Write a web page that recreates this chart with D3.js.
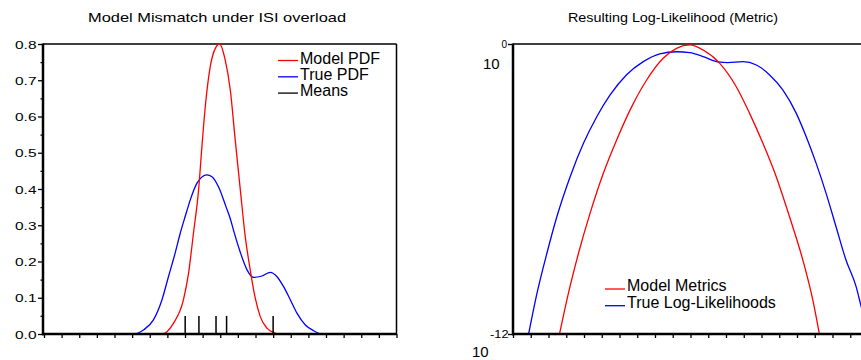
<!DOCTYPE html>
<html>
<head>
<meta charset="utf-8">
<script src="https://cdn.jsdelivr.net/npm/d3@7"></script>
<style>
  html, body { margin: 0; padding: 0; background: #fff; }
  svg { display: block; }
  text { font-family: "Liberation Sans", Arial, sans-serif; fill: #000; }
</style>
</head>
<body>
<svg id="chart" width="861" height="360"></svg>
<script>
// ---------- Left panel data ----------
const leftTitle = "Model Mismatch under ISI overload";
const leftYTicks = [0, 0.1, 0.2, 0.3, 0.4, 0.5, 0.6, 0.7, 0.8];
const leftYTickLabels = ["0.0", "0.1", "0.2", "0.3", "0.4", "0.5", "0.6", "0.7", "0.8"];
const leftXTicks = d3.range(0, 21);

const modelX   = [0, 6.69, 7.35, 7.91, 8.20, 8.48, 8.77, 8.96, 9.15, 9.43, 9.72, 9.96, 10.28, 10.57, 10.85, 11.14, 11.42, 11.70, 11.99, 12.27, 12.65, 13.03, 13.3, 20];
const modelPdf = [0, 0, 0.03, 0.094, 0.167, 0.278, 0.397, 0.517, 0.627, 0.737, 0.788, 0.8, 0.756, 0.673, 0.535, 0.397, 0.268, 0.177, 0.098, 0.048, 0.016, 0.004, 0, 0];

const trueX   = [0, 5.07, 5.64, 6.21, 6.69, 7.06, 7.44, 7.73, 8.01, 8.30, 8.68, 9.24, 9.53, 9.90, 10.32, 10.57, 10.76, 11.14, 11.52, 11.89, 12.37, 12.84, 13.22, 13.60, 13.98, 14.36, 14.83, 15.30, 15.78, 20];
const truePdf = [0, 0, 0.011, 0.039, 0.094, 0.158, 0.223, 0.278, 0.324, 0.370, 0.416, 0.439, 0.434, 0.406, 0.352, 0.318, 0.285, 0.225, 0.177, 0.156, 0.160, 0.170, 0.158, 0.130, 0.094, 0.057, 0.025, 0.009, 0, 0];

const meansX = [8.01, 8.79, 9.76, 10.36, 13.0];
const meanHeight = 0.05;

const leftLegend = ["Model PDF", "True PDF", "Means"];
const leftLegendColors = ["#ff0000", "#0000ff", "#000000"];

// ---------- Right panel data ----------
const rightTitle = "Resulting Log-Likelihood (Metric)";
const rightXTicks = d3.range(0, 21);
const rightYExtent = [-12, 0]; // decades

const modelLLX = [2.62, 3.12, 3.69, 4.34, 5.09, 5.84, 6.69, 7.53, 8.46, 9.21, 9.96, 10.71, 11.65, 12.58, 13.33, 14.08, 14.83, 15.58, 16.33, 16.89, 17.26];
const modelLL  = [-12, -10.32, -8.66, -7.01, -5.35, -3.97, -2.59, -1.49, -0.59, -0.18, -0.04, -0.25, -0.80, -1.77, -2.87, -4.11, -5.49, -7.15, -8.94, -10.59, -12];

const trueLLX = [0.88, 1.35, 1.91, 2.47, 3.22, 3.97, 4.72, 5.47, 6.40, 7.34, 8.27, 9.21, 9.96, 10.71, 11.55, 12.11, 12.96, 13.71, 14.46, 15.20, 15.96, 16.52, 17.08, 17.64, 18.20, 18.76, 19.33, 19.57, 20.0];
const trueLL  = [-12, -10.32, -8.66, -7.15, -5.49, -4.11, -3.01, -2.11, -1.27, -0.73, -0.41, -0.32, -0.36, -0.52, -0.74, -0.77, -0.73, -0.87, -1.28, -1.90, -2.87, -3.84, -4.94, -6.18, -7.56, -8.94, -10.04, -10.73, -12];

const rightLegend = ["Model Metrics", "True Log-Likelihoods"];
const rightLegendColors = ["#ff0000", "#0000ff"];

// ---------- Drawing ----------
const svg = d3.select("#chart");
const defs = svg.append("defs");

function panelFrame(g, x0, x1, y0, y1) {
  g.append("line").attr("x1", x0).attr("x2", x1).attr("y1", y0).attr("y2", y0)
    .attr("stroke", "#000").attr("stroke-width", 1.5);
  g.append("line").attr("x1", x1).attr("x2", x1).attr("y1", y0).attr("y2", y1)
    .attr("stroke", "#000").attr("stroke-width", 1.5);
}

// ===== Left panel =====
const Lx = d3.scaleLinear().domain([0, 20]).range([44, 396.5]);
const Ly = d3.scaleLinear().domain([0, 0.8]).range([334, 44]);
const gL = svg.append("g");

defs.append("clipPath").attr("id", "clipL").append("rect")
  .attr("x", 44).attr("y", 43).attr("width", 353).attr("height", 292);

gL.append("text").attr("x", 88).attr("y", 22).attr("font-size", 13)
  .attr("textLength", 258).attr("lengthAdjust", "spacingAndGlyphs").text(leftTitle);

panelFrame(gL, 43, 396.5, 44, 334);

const lineL = d3.line().x(d => Lx(d[0])).y(d => Ly(d[1])).curve(d3.curveMonotoneX);
const cL = gL.append("g").attr("clip-path", "url(#clipL)");
cL.append("path").datum(d3.zip(trueX, truePdf)).attr("d", lineL)
  .attr("fill", "none").attr("stroke", "#0000ff").attr("stroke-width", 1.3);
cL.append("path").datum(d3.zip(modelX, modelPdf)).attr("d", lineL)
  .attr("fill", "none").attr("stroke", "#ff0000").attr("stroke-width", 1.3);
cL.selectAll("line.mean").data(meansX).join("line").attr("class", "mean")
  .attr("x1", d => Lx(d)).attr("x2", d => Lx(d))
  .attr("y1", Ly(0)).attr("y2", Ly(meanHeight))
  .attr("stroke", "#000").attr("stroke-width", 1.5);

const yAxL = gL.append("g").attr("transform", "translate(43,0)")
  .call(d3.axisLeft(Ly).tickValues(leftYTicks).tickSize(5).tickPadding(6)
    .tickFormat((d, i) => leftYTickLabels[i]));
yAxL.select(".domain").remove();
yAxL.selectAll(".tick line").attr("stroke-width", 1.3);
yAxL.selectAll(".tick text").attr("font-size", 11).attr("font-family", "Liberation Sans, Arial, sans-serif")
  .attr("text-anchor", "start").attr("x", -28).attr("dy", "0.38em")
  .attr("textLength", 21.5).attr("lengthAdjust", "spacingAndGlyphs");
const yMinL = gL.append("g").attr("transform", "translate(43,0)")
  .call(d3.axisLeft(Ly).tickValues(d3.range(0.05, 0.8, 0.1)).tickSize(2.5).tickFormat(""));
yMinL.select(".domain").remove();
yMinL.selectAll(".tick line").attr("stroke-width", 1.3);
const xAxL = gL.append("g").attr("transform", "translate(0,334)")
  .call(d3.axisBottom(Lx).tickValues(leftXTicks).tickSize(4).tickFormat(""));
xAxL.select(".domain").remove();
xAxL.selectAll(".tick line").attr("stroke-width", 1.3);
gL.append("line").attr("x1", 43).attr("x2", 43).attr("y1", 43.5).attr("y2", 335.2)
  .attr("stroke", "#000").attr("stroke-width", 2.5);
gL.append("line").attr("x1", 42).attr("x2", 397).attr("y1", 334).attr("y2", 334)
  .attr("stroke", "#000").attr("stroke-width", 2.5);

const legL = gL.append("g");
leftLegend.forEach((name, i) => {
  const by = 63.5 + i * 16.3;
  legL.append("line").attr("x1", 278).attr("x2", 298).attr("y1", by - 3).attr("y2", by - 3)
    .attr("stroke", leftLegendColors[i]).attr("stroke-width", 1.3);
  legL.append("text").attr("x", 300).attr("y", by).attr("font-size", 16).text(name);
});

// ===== Right panel =====
const Rx = d3.scaleLinear().domain([0, 20]).range([513, 868]);
const Ry = d3.scaleLog().domain([1e-12, 1]).range([334, 44]);
const gR = svg.append("g");

defs.append("clipPath").attr("id", "clipR").append("rect")
  .attr("x", 513).attr("y", 43).attr("width", 356).attr("height", 292);

gR.append("text").attr("x", 568).attr("y", 22).attr("font-size", 13)
  .attr("textLength", 210).attr("lengthAdjust", "spacingAndGlyphs").text(rightTitle);

panelFrame(gR, 513, 868, 44, 334);

const lineR = d3.line().x(d => Rx(d[0])).y(d => Ry(Math.pow(10, d[1]))).curve(d3.curveMonotoneX);
const cR = gR.append("g").attr("clip-path", "url(#clipR)");
cR.append("path").datum(d3.zip(trueLLX, trueLL)).attr("d", lineR)
  .attr("fill", "none").attr("stroke", "#0000ff").attr("stroke-width", 1.3);
cR.append("path").datum(d3.zip(modelLLX, modelLL)).attr("d", lineR)
  .attr("fill", "none").attr("stroke", "#ff0000").attr("stroke-width", 1.3);

const yAxR = gR.append("g").attr("transform", "translate(513,0)")
  .call(d3.axisLeft(Ry).tickValues(rightYExtent.map(e => Math.pow(10, e))).tickSize(5).tickFormat(""));
yAxR.select(".domain").remove();
yAxR.selectAll(".tick line").attr("stroke-width", 1.3);
gR.append("text").attr("x", 507).attr("y", Ry(Math.pow(10, rightYExtent[1])) + 3.5)
  .attr("font-size", 10).attr("text-anchor", "end").text(String(rightYExtent[1]));
gR.append("text").attr("x", 483).attr("y", 69).attr("font-size", 15).text("10");
gR.append("text").attr("x", 490).attr("y", Ry(Math.pow(10, rightYExtent[0])) + 3.8)
  .attr("font-size", 10).attr("textLength", 18.5).attr("lengthAdjust", "spacingAndGlyphs")
  .text(String(rightYExtent[0]));
gR.append("text").attr("x", 472).attr("y", 357).attr("font-size", 15).text("10");

const xAxR = gR.append("g").attr("transform", "translate(0,334)")
  .call(d3.axisBottom(Rx).tickValues(rightXTicks).tickSize(4).tickFormat(""));
xAxR.select(".domain").remove();
xAxR.selectAll(".tick line").attr("stroke-width", 1.3);
gR.append("line").attr("x1", 513).attr("x2", 513).attr("y1", 43.5).attr("y2", 335.2)
  .attr("stroke", "#000").attr("stroke-width", 2.5);
gR.append("line").attr("x1", 512).attr("x2", 868).attr("y1", 334).attr("y2", 334)
  .attr("stroke", "#000").attr("stroke-width", 2.5);

const legR = gR.append("g");
rightLegend.forEach((name, i) => {
  const by = 291 + i * 16.7;
  legR.append("line").attr("x1", 605).attr("x2", 625).attr("y1", by - 2).attr("y2", by - 2)
    .attr("stroke", rightLegendColors[i]).attr("stroke-width", 1.3);
  legR.append("text").attr("x", 627).attr("y", by).attr("font-size", 16).text(name);
});
</script>
</body>
</html>
